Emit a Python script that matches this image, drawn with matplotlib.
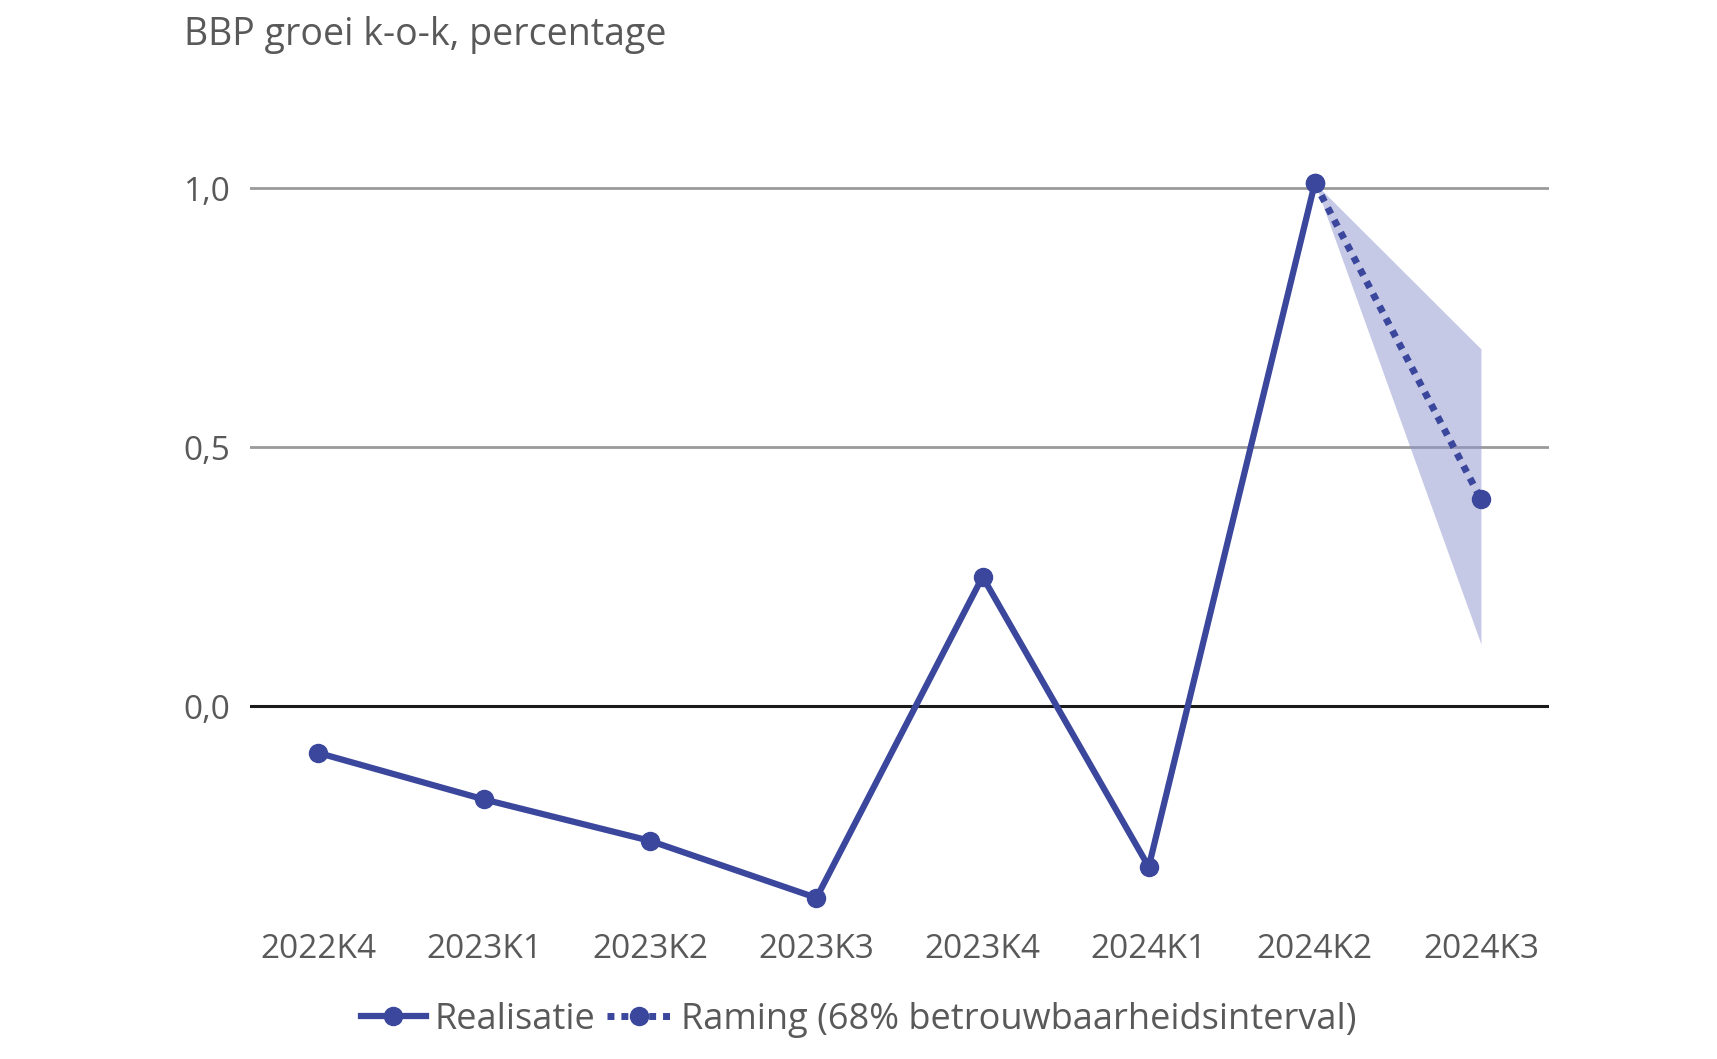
import numpy as np
import matplotlib
matplotlib.use("Agg")
from matplotlib import pyplot as plt
from matplotlib.lines import Line2D

plt.rcParams['font.family'] = ['Open Sans', 'DejaVu Sans']

# data
kwartalen = ['2022K4', '2023K1', '2023K2', '2023K3', '2023K4', '2024K1', '2024K2', '2024K3']
realisatie = [-0.09, -0.18, -0.26, -0.37, 0.25, -0.31, 1.01]
raming = [1.01, 0.40]
raming_laag = [1.01, 0.12]
raming_hoog = [1.01, 0.69]
yticks = [0.0, 0.5, 1.0]
ytick_labels = ['0,0', '0,5', '1,0']

blauw = '#3a479c'
band = '#8f95cf'
grijs = '#595959'

fig = plt.figure(figsize=(17.17, 10.59), dpi=100)
ax = fig.add_axes([0.1456, 0.1277, 0.7566, 0.7678])

x_real = np.arange(len(realisatie))
x_ram = np.arange(len(realisatie) - 1, len(kwartalen))

# gridlines
for y in yticks[1:]:
    ax.axhline(y, color='#9a9a9a', lw=2, zorder=1)
ax.axhline(0, color='#1a1a1a', lw=2.2, zorder=2)

ax.fill_between(x_ram, raming_laag, raming_hoog, color=band, alpha=0.5, lw=0, zorder=3)
ax.plot(x_real, realisatie, color=blauw, lw=4.5, marker='o', ms=13, zorder=5)
ax.plot(x_ram, raming, color=blauw, lw=5, ls=(0, (1.0, 1.0)), marker='o', ms=13, zorder=4)

ax.set_xlim(-0.41, len(kwartalen) - 1 + 0.41)
ax.set_ylim(-0.42, 1.15)
ax.set_xticks(range(len(kwartalen)))
ax.set_xticklabels(kwartalen)
ax.set_yticks(yticks)
ax.set_yticklabels(ytick_labels)
ax.tick_params(axis='both', length=0, labelsize=24, labelcolor=grijs)
ax.tick_params(axis='y', pad=14)
ax.tick_params(axis='x', pad=7)
for s in ax.spines.values():
    s.set_visible(False)

fig.text(0.107, 0.967, 'BBP groei k-o-k, percentage', fontsize=27, color=grijs, va='center', ha='left')

handles = [
    Line2D([], [], color=blauw, lw=4.5, marker='o', ms=13),
    Line2D([], [], color=blauw, lw=5, ls=(0, (1.0, 1.0)), marker='o', ms=13),
]
fig.legend(handles, ['Realisatie', 'Raming (68% betrouwbaarheidsinterval)'],
           loc='center', bbox_to_anchor=(0.5, 0.037), ncol=2, frameon=False,
           fontsize=26, labelcolor=grijs, handlelength=1.8, handletextpad=0.25,
           columnspacing=0.3)

fig.savefig('out.png', dpi=100)
